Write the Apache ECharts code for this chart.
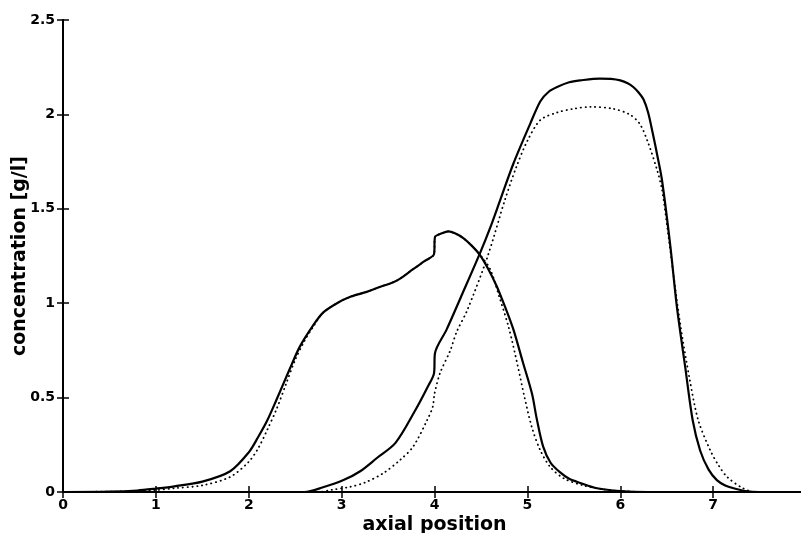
<!DOCTYPE html>
<html lang="en" style="height: 100%">
<head>
    <meta charset="UTF-8">
    <title>concentration profile</title>
    <script type="text/javascript" src="https://cdn.jsdelivr.net/npm/echarts@6/dist/echarts.min.js"></script>
</head>
<body style="height: 100%;margin: 0;background: #fff">

<div id="contar1" style="width: 801px;height: 533px"></div>

<script type="text/javascript">
    // component 1, simulated (solid)
    var xSolidA = [0, 0.5, 0.8, 1.0, 1.2, 1.5, 1.8, 2.0, 2.1, 2.2, 2.3, 2.44, 2.55, 2.69, 2.8, 2.95, 3.1, 3.27, 3.41, 3.55, 3.63, 3.77, 3.9, 3.995,
        4.005, 4.08, 4.15, 4.22, 4.31, 4.4, 4.49, 4.58, 4.67, 4.76, 4.85, 4.95, 5.05, 5.1, 5.17, 5.25, 5.35, 5.45, 5.57, 5.75, 6.0, 6.3, 8];
    var ySolidA = [0, 0.002, 0.008, 0.018, 0.03, 0.055, 0.11, 0.21, 0.29, 0.38, 0.49, 0.65, 0.77, 0.88, 0.95, 1.0, 1.035, 1.06, 1.086, 1.11, 1.13, 1.18, 1.225, 1.26,
        1.35, 1.37, 1.38, 1.37, 1.345, 1.305, 1.255, 1.18, 1.09, 0.98, 0.86, 0.69, 0.52, 0.39, 0.24, 0.155, 0.105, 0.07, 0.048, 0.02, 0.005, 0, 0];

    // component 1, measured (dotted)
    var xDotA = [0, 0.8, 1.0, 1.2, 1.5, 1.8, 2.0, 2.1, 2.2, 2.3, 2.4, 2.5, 2.6, 2.7, 2.8, 2.95, 3.1, 3.27, 3.41, 3.55, 3.63, 3.77, 3.9, 3.995,
        4.005, 4.08, 4.15, 4.22, 4.31, 4.4, 4.5, 4.6, 4.7, 4.8, 4.9, 4.97, 5.05, 5.14, 5.25, 5.4, 5.6, 5.8, 6.0, 6.3, 8];
    var yDotA = [0, 0.004, 0.01, 0.02, 0.035, 0.08, 0.16, 0.23, 0.33, 0.44, 0.57, 0.7, 0.8, 0.88, 0.95, 1.0, 1.035, 1.06, 1.086, 1.11, 1.13, 1.18, 1.225, 1.26,
        1.35, 1.37, 1.38, 1.37, 1.345, 1.305, 1.25, 1.18, 1.03, 0.87, 0.66, 0.5, 0.34, 0.22, 0.13, 0.07, 0.035, 0.015, 0.005, 0, 0];

    // component 2, simulated (solid)
    var xSolidB = [0, 2.6, 2.8, 3.02, 3.2, 3.38, 3.58, 3.79, 3.93, 3.995, 4.005, 4.13, 4.3, 4.49, 4.6, 4.71, 4.85, 5.03, 5.14, 5.23, 5.32, 5.45, 5.57, 5.78, 5.9,
        6.0, 6.08, 6.14, 6.2, 6.25, 6.3, 6.35, 6.4, 6.45, 6.54, 6.61, 6.7, 6.78, 6.86, 6.95, 7.04, 7.13, 7.22, 7.35, 7.5, 8];
    var ySolidB = [0, 0, 0.025, 0.063, 0.11, 0.18, 0.26, 0.43, 0.56, 0.63, 0.735, 0.86, 1.05, 1.265, 1.4, 1.55, 1.74, 1.95, 2.07, 2.12, 2.145, 2.17, 2.18, 2.19, 2.188,
        2.18, 2.165, 2.145, 2.115, 2.08, 2.01, 1.9, 1.78, 1.65, 1.3, 0.98, 0.66, 0.38, 0.22, 0.12, 0.063, 0.035, 0.02, 0.005, 0, 0];

    // component 2, measured (dotted)
    var xDotB = [0, 2.75, 2.9, 3.09, 3.25, 3.45, 3.63, 3.77, 3.92, 3.98, 4.0, 4.06, 4.17, 4.24, 4.35, 4.57, 4.76, 4.88, 5.0, 5.14, 5.32, 5.5, 5.68, 5.92,
        6.1, 6.21, 6.3, 6.4, 6.45, 6.52, 6.64, 6.75, 6.84, 6.97, 7.06, 7.15, 7.32, 7.45, 8];
    var yDotB = [0, 0, 0.012, 0.027, 0.05, 0.1, 0.17, 0.24, 0.38, 0.45, 0.52, 0.63, 0.75, 0.85, 0.96, 1.245, 1.55, 1.72, 1.86, 1.97, 2.01, 2.03, 2.04, 2.03,
        2.0, 1.95, 1.85, 1.7, 1.6, 1.35, 0.91, 0.59, 0.38, 0.22, 0.14, 0.08, 0.02, 0, 0];

    var xTicks = [0, 1, 2, 3, 4, 5, 6, 7];
    var yTicks = [0, 0.5, 1, 1.5, 2, 2.5];

    function pairs(xs, ys) {
        var out = [];
        for (var i = 0; i < xs.length; i++) {
            out.push([xs[i], ys[i]]);
        }
        return out;
    }

    var labelFont = {color: '#000', fontFamily: 'DejaVu Sans', fontWeight: 'bold', fontSize: 14};
    var nameFont = {color: '#000', fontFamily: 'DejaVu Sans', fontWeight: 'bold', fontSize: 19};
    var axisLine = {show: true, lineStyle: {color: '#000', width: 2}};
    var tickIn = {show: true, inside: true, length: 6, lineStyle: {color: '#000', width: 1.5}};

    function line(data, dotted) {
        return {
            type: 'line',
            data: data,
            showSymbol: false,
            smooth: 0.3,
            silent: true,
            lineStyle: dotted
                ? {color: '#000', width: 1.8, type: [0.3, 4.5], cap: 'round'}
                : {color: '#000', width: 2.2}
        };
    }

    var chart = echarts.init(document.getElementById('contar1'), null, {renderer: 'canvas'});
    var option = {
        animation: false,
        backgroundColor: '#fff',
        grid: {left: 63, top: 20, right: -5, bottom: 41, outerBoundsMode: 'none', containLabel: false},
        xAxis: [
            {
                type: 'value',
                min: xTicks[0],
                max: 8,
                interval: 1,
                name: 'axial position',
                nameLocation: 'middle',
                nameGap: 24,
                nameMoveOverlap: false,
                nameTextStyle: nameFont,
                axisLine: axisLine,
                axisTick: tickIn,
                axisLabel: Object.assign({margin: 6, showMaxLabel: false}, labelFont),
                splitLine: {show: false}
            },
            {
                type: 'value',
                position: 'top',
                min: xTicks[0],
                max: 8,
                interval: 1,
                axisLine: axisLine,
                axisTick: tickIn,
                axisLabel: {show: false},
                splitLine: {show: false}
            }
        ],
        yAxis: [
            {
                type: 'value',
                min: yTicks[0],
                max: yTicks[yTicks.length - 1],
                interval: 0.5,
                name: 'concentration [g/l]',
                nameLocation: 'middle',
                nameRotate: 90,
                nameGap: 33,
                nameMoveOverlap: false,
                nameTextStyle: nameFont,
                axisLine: axisLine,
                axisTick: tickIn,
                axisLabel: Object.assign({margin: 8}, labelFont),
                splitLine: {show: false}
            },
            {
                type: 'value',
                position: 'right',
                min: yTicks[0],
                max: yTicks[yTicks.length - 1],
                interval: 0.5,
                axisLine: axisLine,
                axisTick: tickIn,
                axisLabel: {show: false},
                splitLine: {show: false}
            }
        ],
        series: [
            line(pairs(xSolidA, ySolidA), false),
            line(pairs(xDotA, yDotA), true),
            line(pairs(xSolidB, ySolidB), false),
            line(pairs(xDotB, yDotB), true)
        ]
    };
    chart.setOption(option);
</script>

</body>
</html>
